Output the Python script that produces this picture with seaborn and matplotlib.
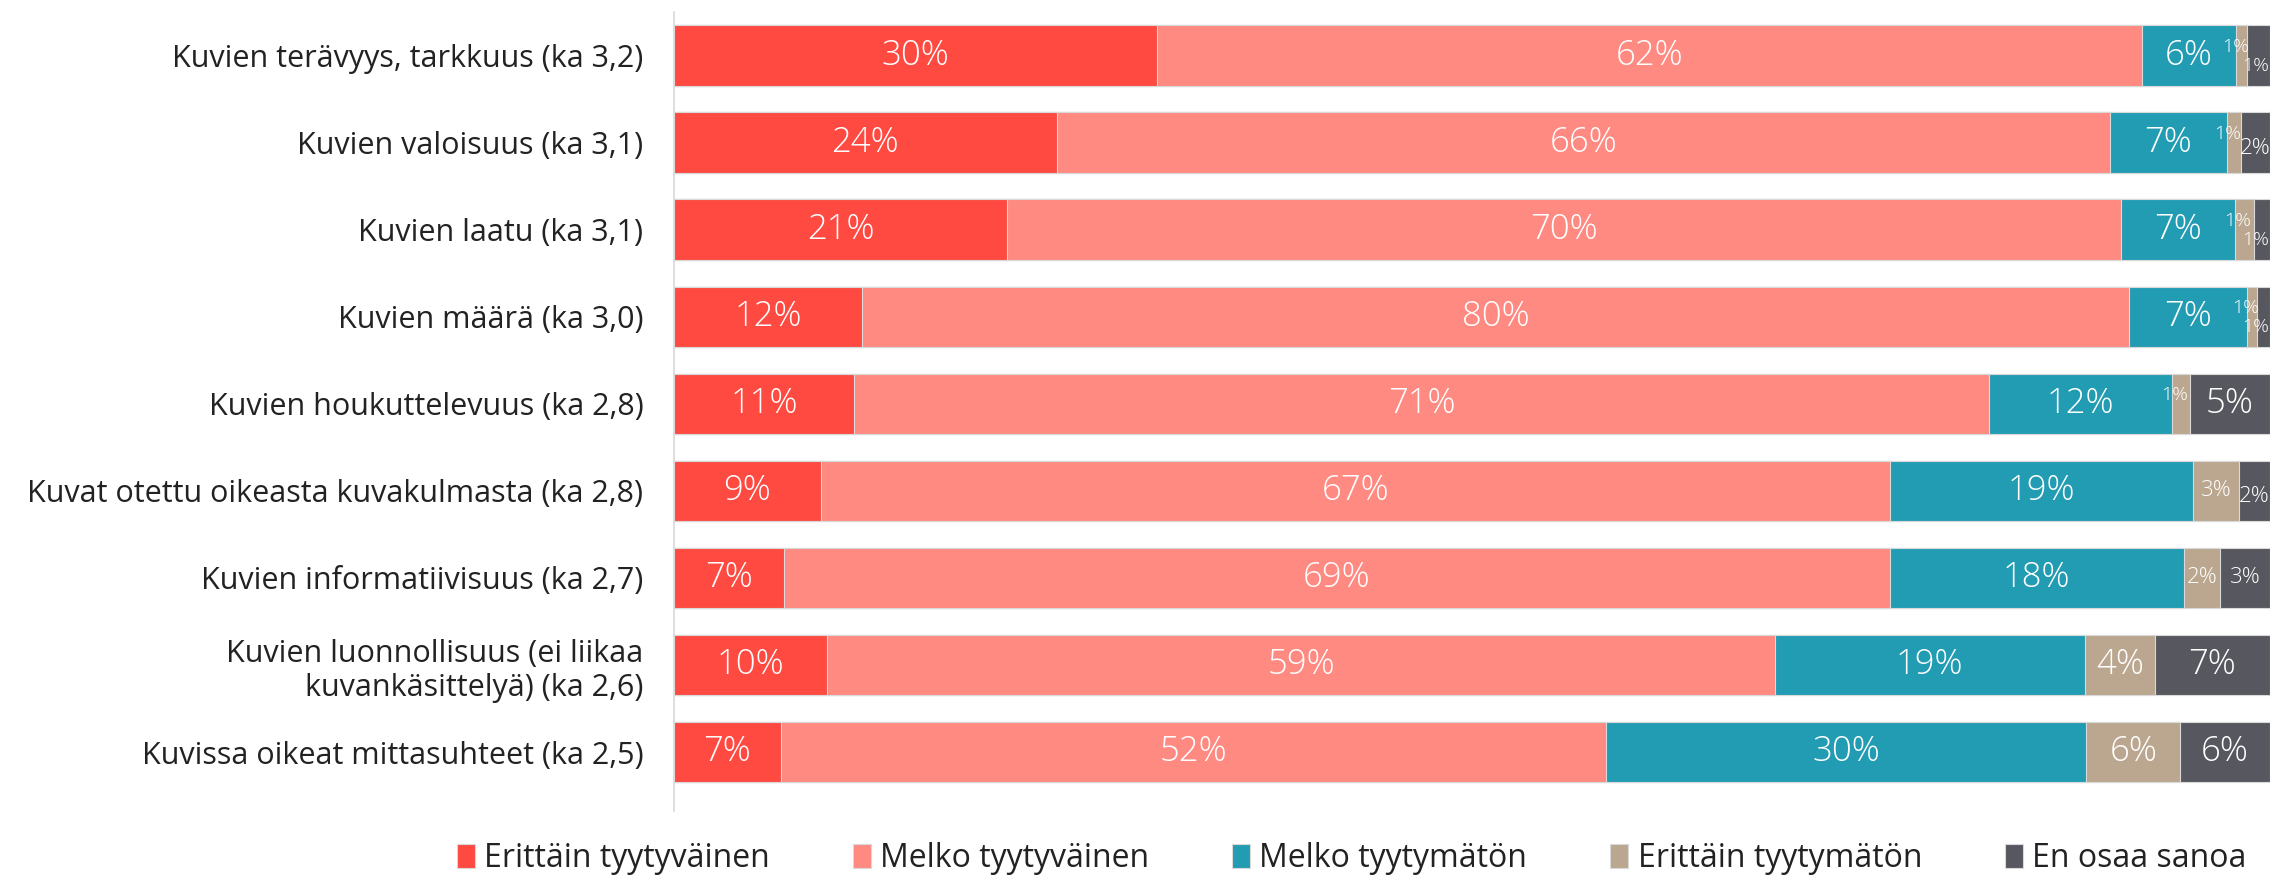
import pandas as pd
import matplotlib.pyplot as plt
import seaborn as sns

items = [
    "Kuvien terävyys, tarkkuus (ka 3,2)",
    "Kuvien valoisuus (ka 3,1)",
    "Kuvien laatu (ka 3,1)",
    "Kuvien määrä (ka 3,0)",
    "Kuvien houkuttelevuus (ka 2,8)",
    "Kuvat otettu oikeasta kuvakulmasta (ka 2,8)",
    "Kuvien informatiivisuus (ka 2,7)",
    "Kuvien luonnollisuus (ei liikaa\nkuvankäsittelyä) (ka 2,6)",
    "Kuvissa oikeat mittasuhteet (ka 2,5)",
]
categories = [
    "Erittäin tyytyväinen",
    "Melko tyytyväinen",
    "Melko tyytymätön",
    "Erittäin tyytymätön",
    "En osaa sanoa",
]
erittain_tyytyvainen = [30.3, 24.0, 20.9, 11.8, 11.3, 9.2, 6.9, 9.6, 6.7]
melko_tyytyvainen = [61.7, 66.0, 69.8, 79.4, 71.1, 67.0, 69.3, 59.4, 51.7]
melko_tyytymaton = [5.9, 7.3, 7.1, 7.4, 11.5, 19.0, 18.4, 19.4, 30.1]
erittain_tyytymaton = [0.7, 0.9, 1.2, 0.6, 1.1, 2.9, 2.3, 4.4, 5.9]
en_osaa_sanoa = [1.4, 1.8, 1.0, 0.8, 5.0, 1.9, 3.1, 7.2, 5.6]
shown_labels = [
    [30, 24, 21, 12, 11, 9, 7, 10, 7],
    [62, 66, 70, 80, 71, 67, 69, 59, 52],
    [6, 7, 7, 7, 12, 19, 18, 19, 30],
    [1, 1, 1, 1, 1, 3, 2, 4, 6],
    [1, 2, 1, 1, 5, 2, 3, 7, 6],
]
colors = ["#FF4A42", "#FF8A82", "#229CB2", "#BBA78F", "#57575F"]

df = pd.DataFrame(
    dict(zip(categories, [erittain_tyytyvainen, melko_tyytyvainen, melko_tyytymaton,
                          erittain_tyytymaton, en_osaa_sanoa])),
    index=items,
)
cum = df.cumsum(axis=1)

sns.set_style("white")
plt.rcParams["font.family"] = ["Open Sans", "DejaVu Sans"]

fig = plt.figure(figsize=(22.72, 8.88), dpi=100)
ax = fig.add_axes([0.2966, 0.0865, 0.7024, 0.9005])

# stacked bars: draw cumulative totals from the widest down
for cat, col in reversed(list(zip(categories, colors))):
    sns.barplot(x=cum[cat].values, y=items, color=col, width=0.7, saturation=1,
                orient="h", ax=ax, label=cat, edgecolor="#d9d9d9", linewidth=0.8)

for j, cat in enumerate(categories):
    starts = cum[cat] - df[cat]
    for i, item in enumerate(items):
        v = df.loc[item, cat]
        lab = shown_labels[j][i]
        x = starts.iloc[i] + v / 2
        y = i
        if lab >= 4:
            fs = 25
        else:
            fs = 16 if v >= 1.8 else 14
            # tiny segments: nudge the two grey labels apart like the original
            if v < 1.5 and j == 3:
                x, y = x - 0.4, i - 0.1
            elif v < 1.5 and j == 4:
                y = i + 0.12
            elif v < 2.0 and j == 4:
                y = i + 0.06
            x = min(x, 99.1)
        ax.text(x, y, f"{lab}%", ha="center", va="center",
                color="white", fontsize=fs, fontweight="light")

ax.set_xlim(0, 100)
ax.set_ylim(8.68, -0.51)
ax.set_xlabel("")
ax.set_xticks([])
ax.tick_params(axis="y", length=0, pad=22, labelsize=22, labelcolor="#222222")
for s in ["top", "right", "bottom"]:
    ax.spines[s].set_visible(False)
ax.spines["left"].set_color("#d9d9d9")
ax.spines["left"].set_linewidth(1.2)

handles, labels = ax.get_legend_handles_labels()
order = [labels.index(c) for c in categories]
ax.legend([handles[k] for k in order], [labels[k] for k in order],
          loc="lower center", bbox_to_anchor=(0.595, -0.018), bbox_transform=fig.transFigure,
          ncol=5, frameon=False, fontsize=23, handlelength=0.55, handleheight=0.75,
          handletextpad=0.3, columnspacing=2.6, labelcolor="#222222")

fig.savefig("out.png", dpi=100)
